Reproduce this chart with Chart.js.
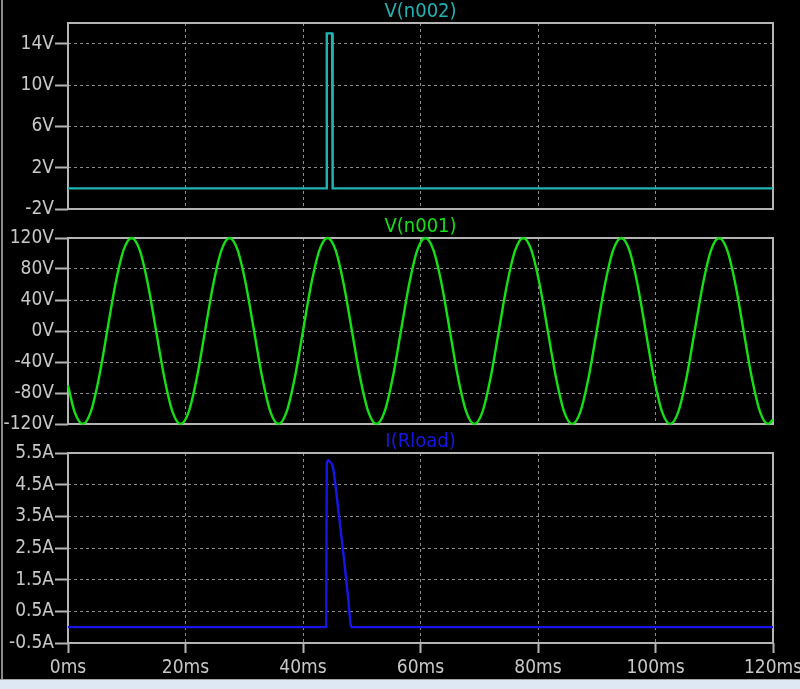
<!DOCTYPE html>
<html>
<head>
<meta charset="utf-8">
<script src="https://cdn.jsdelivr.net/npm/chart.js@4.4.1/dist/chart.umd.min.js"></script>
<style>
  html, body { margin: 0; padding: 0; background: #000; width: 800px; height: 689px; overflow: hidden; }
  canvas { position: absolute; left: 0; }
  .edge-left { position: absolute; left: 1px; top: 0; width: 2px; height: 679px; background: #8a8a8a; }
  .strip { position: absolute; left: 0; top: 679px; width: 800px; height: 10px; background: #dde8f4; border-top: 1px solid #a6a6a6; }
</style>
</head>
<body>
<div class="edge-left"></div>
<canvas id="n002" width="800" height="225" style="top:0px"></canvas>
<canvas id="n001" width="800" height="225" style="top:215px"></canvas>
<canvas id="rload" width="800" height="249" style="top:430px"></canvas>
<div class="strip"></div>
<script>
// time axis (ms)
const timeTicks = [0, 20, 40, 60, 80, 100, 120];

// V(n002) - gate pulse
const n002Times = [0, 43.95, 44.05, 44.95, 45.05, 120];
const n002Volts = [0, 0, 15, 15, 0, 0];
const n002Ticks = [-2, 2, 6, 10, 14];

// V(n001) - mains sine, read at peaks / crossings
const n001Times = [
  0, 1.11,
  2.5, 3.89, 5.28, 6.67, 8.06, 9.44, 10.83, 12.22, 13.61, 15, 16.39, 17.78,
  19.17, 20.56, 21.94, 23.33, 24.72, 26.11, 27.5, 28.89, 30.28, 31.67, 33.06, 34.44,
  35.83, 37.22, 38.61, 40, 41.39, 42.78, 44.17, 45.56, 46.94, 48.33, 49.72, 51.11,
  52.5, 53.89, 55.28, 56.67, 58.06, 59.44, 60.83, 62.22, 63.61, 65, 66.39, 67.78,
  69.17, 70.56, 71.94, 73.33, 74.72, 76.11, 77.5, 78.89, 80.28, 81.67, 83.06, 84.44,
  85.83, 87.22, 88.61, 90, 91.39, 92.78, 94.17, 95.56, 96.94, 98.33, 99.72, 101.11,
  102.5, 103.89, 105.28, 106.67, 108.06, 109.44, 110.83, 112.22, 113.61, 115, 116.39, 117.78,
  119.17, 120
];
const n001Volts = [
  -70, -104,
  -120, -104, -60, 0, 60, 104, 120, 104, 60, 0, -60, -104,
  -120, -104, -60, 0, 60, 104, 120, 104, 60, 0, -60, -104,
  -120, -104, -60, 0, 60, 104, 120, 104, 60, 0, -60, -104,
  -120, -104, -60, 0, 60, 104, 120, 104, 60, 0, -60, -104,
  -120, -104, -60, 0, 60, 104, 120, 104, 60, 0, -60, -104,
  -120, -104, -60, 0, 60, 104, 120, 104, 60, 0, -60, -104,
  -120, -104, -60, 0, 60, 104, 120, 104, 60, 0, -60, -104,
  -120, -114
];
const n001Ticks = [-120, -80, -40, 0, 40, 80, 120];

// I(Rload)
const rloadTimes = [0, 43.95, 44.05, 44.3, 44.6, 45.1, 45.95, 46.8, 47.65, 48.25, 120];
const rloadAmps = [0, 0, 5.15, 5.27, 5.22, 5.05, 3.8, 2.45, 0.98, 0, 0];
const rloadTicks = [-0.5, 0.5, 1.5, 2.5, 3.5, 4.5, 5.5];

Chart.defaults.font.family = "'DejaVu Sans Condensed', 'Liberation Sans Narrow', sans-serif";
Chart.defaults.font.size = 19;
Chart.defaults.color = "#c8c8c8";

const frameColor = "#b4b4b4";
const gridColor = "#8c8c8c";

const plotFrame = {
  id: "plotFrame",
  beforeDatasetsDraw(chart) {
    const { ctx, chartArea } = chart;
    ctx.save();
    ctx.strokeStyle = frameColor;
    ctx.lineWidth = 2;
    ctx.strokeRect(chartArea.left, chartArea.top, chartArea.right - chartArea.left, chartArea.bottom - chartArea.top);
    ctx.restore();
  },
};

const toPoints = (xs, ys) => xs.map((x, i) => ({ x: x, y: ys[i] }));

const makePanel = function (id, opts) {
  const showTime = opts.showTime;
  new Chart(document.getElementById(id), {
    type: "line",
    data: {
      datasets: [
        {
          data: toPoints(opts.times, opts.values),
          borderColor: opts.color,
          borderWidth: 2.4,
          pointRadius: 0,
          cubicInterpolationMode: opts.smooth ? "monotone" : "default",
          tension: 0,
          clip: 4,
        },
      ],
    },
    plugins: [plotFrame],
    options: {
      responsive: false,
      animation: false,
      events: [],
      devicePixelRatio: 1,
      layout: { padding: { left: 0, right: 27, top: 0, bottom: opts.padBottom } },
      scales: {
        x: {
          type: "linear",
          min: 0,
          max: 120,
          afterBuildTicks: (s) => { s.ticks = timeTicks.map((v) => ({ value: v })); },
          afterFit: (s) => { s.height = opts.xHeight; s.paddingLeft = 0; s.paddingRight = 0; },
          border: { display: false, dash: [3, 3] },
          grid: {
            color: gridColor,
            lineWidth: 1,
            drawTicks: showTime,
            tickLength: 10,
            tickColor: frameColor,
            tickWidth: 2,
            tickBorderDash: [],
          },
          ticks: {
            display: showTime,
            maxRotation: 0,
            padding: 4,
            callback: (v) => v + "ms",
          },
        },
        y: {
          type: "linear",
          min: opts.min,
          max: opts.max,
          afterBuildTicks: (s) => { s.ticks = opts.ticks.map((v) => ({ value: v })); },
          afterFit: (s) => { s.width = 68; s.paddingTop = 0; s.paddingBottom = 0; },
          border: { display: false, dash: [3, 3] },
          grid: {
            color: gridColor,
            lineWidth: 1,
            tickLength: 13,
            tickColor: frameColor,
            tickWidth: 2,
            tickBorderDash: [],
          },
          ticks: {
            padding: 1,
            callback: opts.label,
          },
        },
      },
      plugins: {
        legend: { display: false },
        tooltip: { enabled: false },
        title: {
          display: true,
          text: opts.title,
          color: opts.color,
          fullSize: false,
          font: { size: 20, lineHeight: 1, weight: "normal" },
          padding: { top: 2, bottom: 1 },
        },
      },
    },
  });
};

makePanel("n002", {
  title: "V(n002)", color: "#1fb4b4",
  times: n002Times, values: n002Volts, ticks: n002Ticks,
  min: -2, max: 16, label: (v) => v + "V",
  showTime: false, xHeight: 0, padBottom: 16, smooth: false,
});

makePanel("n001", {
  title: "V(n001)", color: "#14e014",
  times: n001Times, values: n001Volts, ticks: n001Ticks,
  min: -120, max: 120, label: (v) => v + "V",
  showTime: false, xHeight: 0, padBottom: 16, smooth: true,
});

makePanel("rload", {
  title: "I(Rload)", color: "#1616e8",
  times: rloadTimes, values: rloadAmps, ticks: rloadTicks,
  min: -0.5, max: 5.5, label: (v) => v.toFixed(1) + "A",
  showTime: true, xHeight: 36, padBottom: 0, smooth: true,
});
</script>
</body>
</html>
